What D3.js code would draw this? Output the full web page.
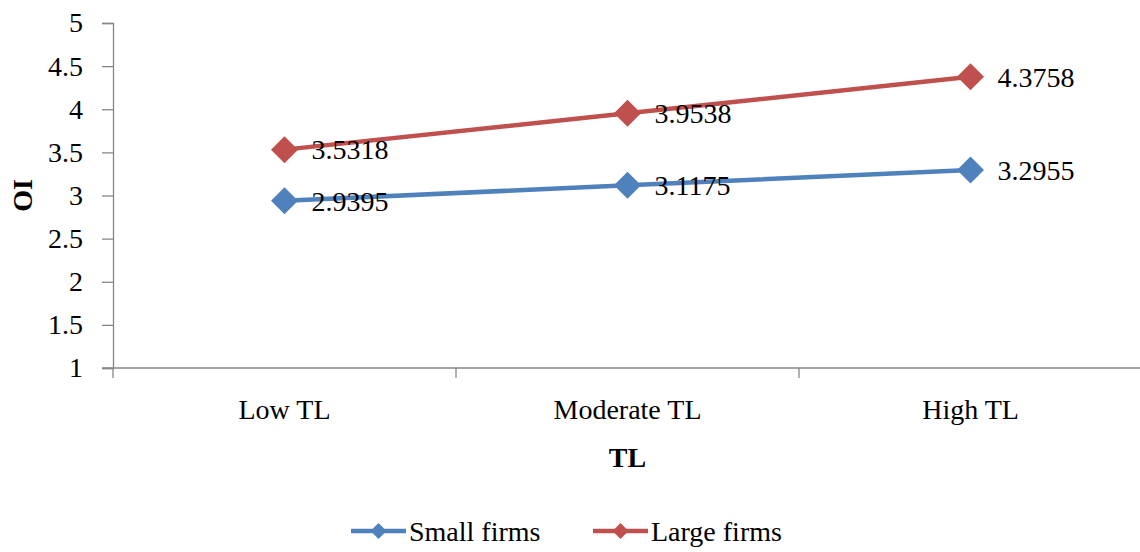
<!DOCTYPE html>
<html><head><meta charset="utf-8">
<script src="https://cdn.jsdelivr.net/npm/d3@7"></script>
<style>body{margin:0;background:#fff}text{font-family:"Liberation Serif","DejaVu Serif",serif;fill:#000}</style>
</head><body><svg id="c" width="1140" height="552"></svg>
<script>
const categories = ["Low TL", "Moderate TL", "High TL"];
const smallFirms = [2.9395, 3.1175, 3.2955];
const largeFirms = [3.5318, 3.9538, 4.3758];
const yTicks = [1, 1.5, 2, 2.5, 3, 3.5, 4, 4.5, 5];
const seriesNames = ["Small firms", "Large firms"];
const colors = ["#4F81BD", "#C0504D"];

(function () {
const svg = d3.select("#c");
const mLeft = 113, mRight = 1142, mTop = 23, mBottom = 368;
const x = d3.scaleBand().domain(categories).range([mLeft, mRight]);
const y = d3.scaleLinear().domain([1, 5]).range([mBottom, mTop]);
const fs = 28;
const ff = '"Liberation Serif", serif';

// y axis
const ya = svg.append("g").attr("transform", `translate(${mLeft},0)`)
  .call(d3.axisLeft(y).tickValues(yTicks).tickSize(11).tickPadding(19).tickFormat(d3.format("")));
ya.attr("font-family", null);
ya.select(".domain").attr("stroke", "#868686").attr("stroke-width", 1.3);
ya.selectAll(".tick line").attr("stroke", "#868686").attr("stroke-width", 1.3);
ya.selectAll(".tick text").style("font-size", fs + "px").attr("fill", "#000").style("font-family", ff);

// x axis
const xa = svg.append("g").attr("transform", `translate(0,${mBottom})`)
  .call(d3.axisBottom(x).tickSize(0).tickPadding(31));
xa.attr("font-family", null);
xa.select(".domain").attr("stroke", "#868686").attr("stroke-width", 1.3).attr("d", `M${mLeft - 11},0H${mRight}`);
xa.selectAll(".tick text").style("font-size", fs + "px").attr("fill", "#000").style("font-family", ff);
// category boundary ticks
const bounds = categories.map(c => x(c)).concat([x(categories[categories.length - 1]) + x.bandwidth()]);
svg.append("g").selectAll("line").data(bounds).join("line")
  .attr("x1", d => d).attr("x2", d => d).attr("y1", mBottom).attr("y2", mBottom + 10)
  .attr("stroke", "#868686").attr("stroke-width", 1.3);

// axis titles
svg.append("text").attr("x", x("Moderate TL") + x.bandwidth() / 2).attr("y", 467)
  .attr("text-anchor", "middle").style("font-size", fs + "px").style("font-weight", "bold").text("TL");
svg.append("text").attr("transform", `translate(32,${y(3)}) rotate(-90)`)
  .attr("text-anchor", "middle").style("font-size", fs + "px").style("font-weight", "bold").text("OI");

const cx = c => x(c) + x.bandwidth() / 2;
const diamond = (cxv, cyv, r) => `M${cxv},${cyv - r}L${cxv + r},${cyv}L${cxv},${cyv + r}L${cxv - r},${cyv}Z`;
const line = d3.line().x((d, i) => cx(categories[i])).y(d => y(d));

[smallFirms, largeFirms].forEach((vals, si) => {
  svg.append("path").attr("d", line(vals)).attr("fill", "none")
    .attr("stroke", colors[si]).attr("stroke-width", 4.5);
  svg.append("g").selectAll("path").data(vals).join("path")
    .attr("d", (d, i) => diamond(cx(categories[i]), y(d), 13.5)).attr("fill", colors[si]);
  svg.append("g").selectAll("text").data(vals).join("text")
    .attr("x", (d, i) => cx(categories[i]) + 27).attr("y", d => y(d))
    .attr("dy", "0.35em").style("font-size", fs + "px").text(d => d3.format(".4f")(d));
});

// legend
const legX = [351, 593];
seriesNames.forEach((n, i) => {
  const g = svg.append("g");
  g.append("line").attr("x1", legX[i]).attr("x2", legX[i] + 55).attr("y1", 531).attr("y2", 531)
    .attr("stroke", colors[i]).attr("stroke-width", 4.5);
  g.append("path").attr("d", diamond(legX[i] + 27.5, 531, 8)).attr("fill", colors[i]);
  g.append("text").attr("x", legX[i] + 58).attr("y", 531).attr("dy", "0.35em")
    .style("font-size", fs + "px").text(n);
});
})();
</script></body></html>
